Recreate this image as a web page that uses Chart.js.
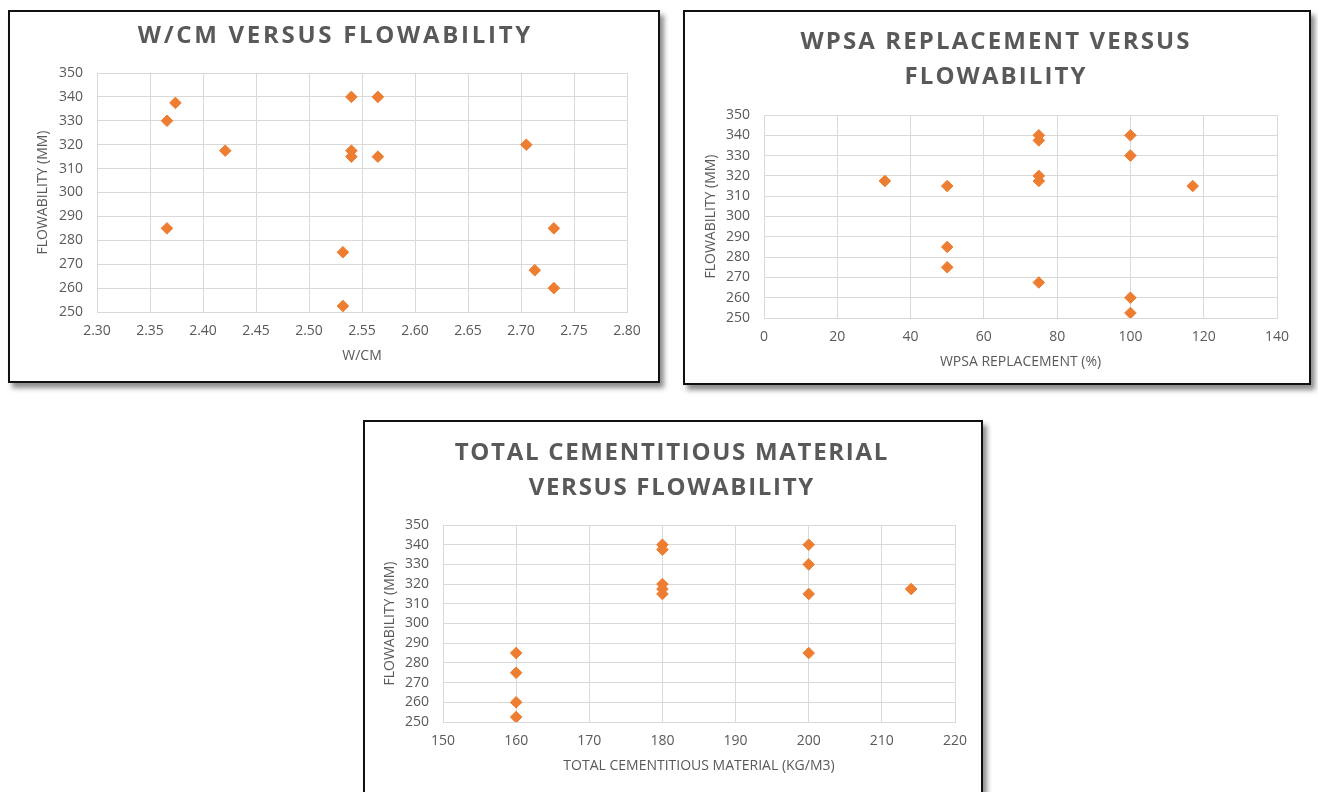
<!DOCTYPE html>
<html>
<head>
<meta charset="utf-8">
<script src="https://cdn.jsdelivr.net/npm/chart.js@4.4.1/dist/chart.umd.min.js"></script>
<style>
  html, body { margin: 0; padding: 0; background: #fff; overflow: hidden; }
  body { width: 1318px; height: 792px; position: relative; }
  .panel { position: absolute; border: 2px solid #111; background: #fff; box-shadow: 4px 5px 5px rgba(0,0,0,0.45); }
  .panel canvas { display: block; }
</style>
</head>
<body>
<div class="panel" style="left:8px;top:10px;width:648px;height:369px"><canvas id="wcm-chart" width="648" height="369"></canvas></div>
<div class="panel" style="left:683px;top:10px;width:624px;height:371px"><canvas id="wpsa-chart" width="624" height="371"></canvas></div>
<div class="panel" style="left:363px;top:420px;width:616px;height:376px"><canvas id="tcm-chart" width="616" height="376"></canvas></div>
<script>
// values
const wcmX = [2.374, 2.366, 2.421, 2.366, 2.532, 2.532, 2.540, 2.540, 2.540, 2.565, 2.565, 2.705, 2.731, 2.713, 2.731];
const wcmY = [337.5, 330, 317.5, 285, 275, 252.5, 340, 317.5, 315, 340, 315, 320, 285, 267.5, 260];

const wpsaX = [33, 50, 50, 50, 75, 75, 75, 75, 75, 100, 100, 100, 100, 117];
const wpsaY = [317.5, 315, 285, 275, 340, 337.5, 320, 317.5, 267.5, 340, 330, 260, 252.5, 315];

const tcmX = [160, 160, 160, 160, 180, 180, 180, 180, 180, 200, 200, 200, 200, 214];
const tcmY = [285, 275, 260, 252.5, 340, 337.5, 320, 317.5, 315, 340, 330, 315, 285, 317.5];

// axis tick values
const flowTicks = [250, 260, 270, 280, 290, 300, 310, 320, 330, 340, 350];
const wcmTicks = [2.30, 2.35, 2.40, 2.45, 2.50, 2.55, 2.60, 2.65, 2.70, 2.75, 2.80];
const wpsaTicks = [0, 20, 40, 60, 80, 100, 120, 140];
const tcmTicks = [150, 160, 170, 180, 190, 200, 210, 220];

const GREY = '#595959';
const GRID = '#d9d9d9';
const ORANGE = '#ED7D31';

// draws the bold spaced chart heading
const panelTitle = {
    id: 'panelTitle',
    afterDraw(chart, args, opts) {
        const ctx = chart.ctx;
        ctx.save();
        ctx.font = 'bold 24px "Open Sans"';
        ctx.letterSpacing = opts.spacing + 'px';
        ctx.fillStyle = GREY;
        ctx.textAlign = 'center';
        ctx.textBaseline = 'middle';
        opts.lines.forEach((t, i) => {
            ctx.fillText(t, opts.x + opts.spacing / 2, opts.top + i * 35);
        });
        ctx.restore();
    }
};

function toPoints(xs, ys) {
    return xs.map((x, i) => ({ x: x, y: ys[i] }));
}

function createChart(id, xs, ys, xTicks, xTitle, heading, lay) {
    const ctx = document.getElementById(id).getContext('2d');
    const step = xTicks[1] - xTicks[0];
    return new Chart(ctx, {
        type: 'scatter',
        data: {
            datasets: [{
                data: toPoints(xs, ys),
                pointStyle: 'rectRot',
                pointRadius: 5.8,
                pointBorderWidth: 1,
                backgroundColor: ORANGE,
                borderColor: ORANGE
            }]
        },
        plugins: [panelTitle],
        options: {
            responsive: false,
            animation: false,
            layout: { padding: lay.padding },
            plugins: {
                legend: { display: false },
                tooltip: { enabled: false },
                panelTitle: { lines: heading, top: lay.titleTop, x: lay.titleX, spacing: lay.spacing }
            },
            scales: {
                x: {
                    type: 'linear',
                    min: xTicks[0],
                    max: xTicks[xTicks.length - 1],
                    afterFit: s => { s.height = 52; },
                    grid: { color: GRID, drawTicks: false },
                    border: { color: GRID },
                    ticks: {
                        stepSize: step,
                        padding: 11,
                        maxRotation: 0,
                        autoSkip: false,
                        color: GREY,
                        font: { family: 'Open Sans', size: 14 },
                        callback: v => step < 1 ? v.toFixed(2) : v
                    },
                    title: {
                        display: true,
                        text: xTitle,
                        color: GREY,
                        padding: 0,
                        font: { family: 'Open Sans', size: 14 }
                    }
                },
                y: {
                    min: flowTicks[0],
                    max: flowTicks[flowTicks.length - 1],
                    afterFit: s => { s.width = lay.yWidth; },
                    grid: { color: GRID, drawTicks: false },
                    border: { color: GRID },
                    ticks: {
                        stepSize: flowTicks[1] - flowTicks[0],
                        padding: 14,
                        autoSkip: false,
                        color: GREY,
                        font: { family: 'Open Sans', size: 14 }
                    },
                    title: {
                        display: true,
                        text: 'FLOWABILITY (MM)',
                        color: GREY,
                        padding: 0,
                        font: { family: 'Open Sans', size: 14 }
                    }
                }
            }
        }
    });
}

createChart('wcm-chart', wcmX, wcmY, wcmTicks, 'W/CM',
    ['W/CM VERSUS FLOWABILITY'],
    { padding: { left: 25, top: 61, right: 31, bottom: 17 }, yWidth: 62, titleTop: 24, titleX: 324, spacing: 2.7 });

createChart('wpsa-chart', wpsaX, wpsaY, wpsaTicks, 'WPSA REPLACEMENT (%)',
    ['WPSA REPLACEMENT VERSUS', 'FLOWABILITY'],
    { padding: { left: 18, top: 103, right: 32, bottom: 13 }, yWidth: 61, titleTop: 30, titleX: 310, spacing: 2.1 });

createChart('tcm-chart', tcmX, tcmY, tcmTicks, 'TOTAL CEMENTITIOUS MATERIAL (KG/M3)',
    ['TOTAL CEMENTITIOUS MATERIAL', 'VERSUS FLOWABILITY'],
    { padding: { left: 17, top: 103, right: 26, bottom: 24 }, yWidth: 61, titleTop: 31, titleX: 306, spacing: 1.7 });
</script>
</body>
</html>
